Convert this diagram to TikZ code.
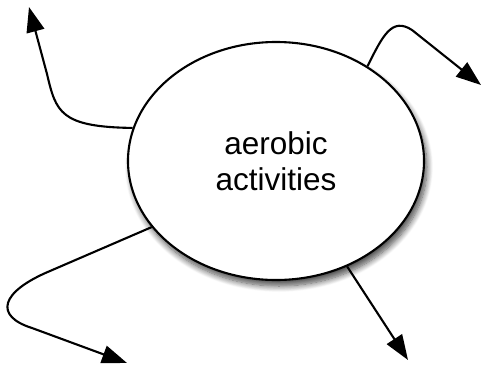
\documentclass[tikz,border=0pt]{standalone}
\usepackage{fontspec}
\setmainfont{Liberation Sans}
\usetikzlibrary{arrows.meta,shadows.blur,shapes.geometric}
\tikzset{
  bubble/.style={ellipse, draw=black, line width=2.1pt, fill=white, minimum width=296pt, minimum height=238pt, inner sep=0pt, align=center, font=\fontsize{31.5pt}{36pt}\selectfont, blur shadow={shadow xshift=3pt, shadow yshift=-6pt, shadow blur steps=10, shadow blur radius=6pt, shadow opacity=70}},
  link/.style={line width=2.1pt, -{Triangle[length=25pt,width=18pt]}}
}
\begin{document}
\begin{tikzpicture}[x=1pt,y=-1pt]
\useasboundingbox (0,0) rectangle (482,367);
\node[bubble] (e) at (276,161) {aerobic\\activities};
\coordinate (t1) at (29,7);
\coordinate (t2) at (481,85);
\coordinate (t3) at (127,363);
\coordinate (t4) at (408,360);
\draw[link] (e.167) .. controls (60,127) and (56,112) .. (47,74) -- (t1);
\draw[link] (e.46) .. controls (383,35) and (392,17) .. (412,30) -- (t2);
\draw[link] (e.208.7) -- (50,271) .. controls (0,292) and (-6,316) .. (32,328) -- (t3);
\draw[link] (e.304) -- (t4);
\end{tikzpicture}
\end{document}
